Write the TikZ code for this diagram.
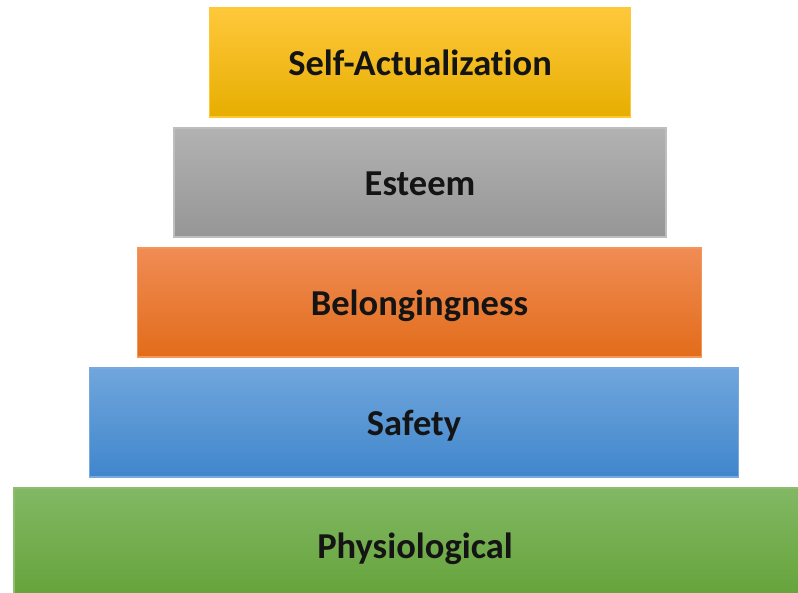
\documentclass[tikz,border=0pt]{standalone}
\usepackage{fontspec}
\setmainfont[Ligatures=NoCommon]{Carlito}
\begin{document}
\begin{tikzpicture}[x=1pt,y=-1pt,
  tier/.style={rectangle, minimum height=109pt, inner sep=0pt, line width=1.2pt,
    text height=26pt, text depth=0pt,
    font=\bfseries\fontsize{36.5}{42}\selectfont, text=black!92},
  goldtier/.style={tier, draw={rgb,255:red,255;green,200;blue,50}, top color={rgb,255:red,255;green,200;blue,60},
    middle color={rgb,255:red,255;green,192;blue,0}, bottom color={rgb,255:red,230;green,174;blue,0}},
  graytier/.style={tier, draw={rgb,255:red,190;green,190;blue,190}, top color={rgb,255:red,178;green,178;blue,178},
    bottom color={rgb,255:red,150;green,150;blue,150}},
  orangetier/.style={tier, draw={rgb,255:red,244;green,150;blue,90}, top color={rgb,255:red,240;green,140;blue,85},
    middle color={rgb,255:red,243;green,124;blue,40}, bottom color={rgb,255:red,226;green,108;blue,26}},
  bluetier/.style={tier, draw={rgb,255:red,120;green,170;blue,225}, top color={rgb,255:red,112;green,166;blue,220},
    middle color={rgb,255:red,88;green,152;blue,218}, bottom color={rgb,255:red,64;green,134;blue,204}},
  greentier/.style={tier, draw={rgb,255:red,140;green,190;blue,110}, top color={rgb,255:red,130;green,184;blue,100},
    middle color={rgb,255:red,112;green,173;blue,71}, bottom color={rgb,255:red,100;green,162;blue,56}}
]
\useasboundingbox (0,0) rectangle (798,593);
\clip (0,0) rectangle (798,593);
\node[goldtier, minimum width=421pt] (selfact) at (420,62.5) {Self-Actualization};
\node[graytier, minimum width=492pt] (esteem) at (420,182.5) {Esteem};
\node[orangetier, minimum width=564pt] (belong) at (419.5,302.5) {Belongingness};
\node[bluetier, minimum width=649pt] (safety) at (414,422.5) {Safety};
\node[greentier, minimum width=802pt, minimum height=114pt] (physio) at (415,545) {Physiological};
\end{tikzpicture}
\end{document}
